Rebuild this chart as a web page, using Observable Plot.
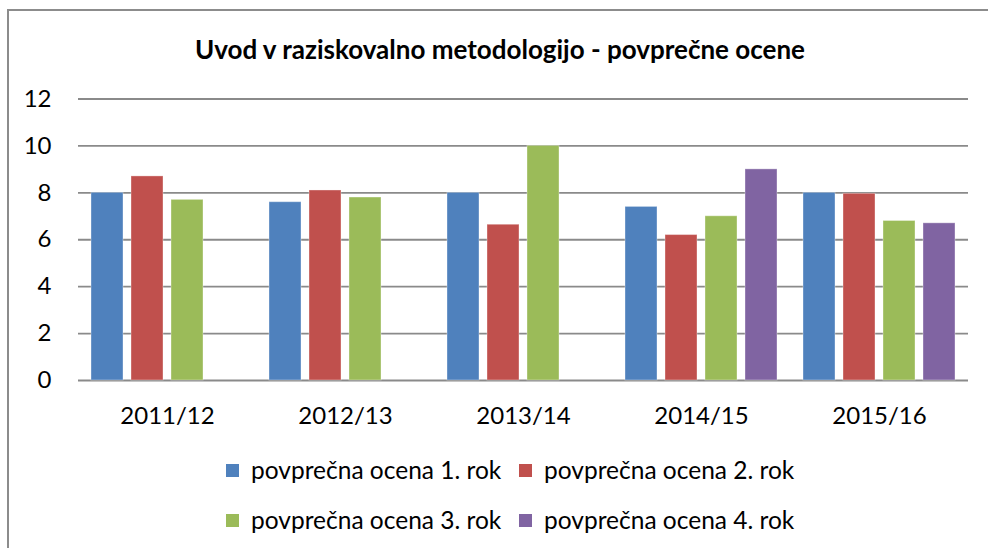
<!DOCTYPE html>
<html>
<head>
<meta charset="utf-8">
<script src="https://cdn.jsdelivr.net/npm/d3@7"></script>
<script src="https://cdn.jsdelivr.net/npm/@observablehq/plot@0.6"></script>
<style>
  html, body { margin: 0; padding: 0; background: #fff; overflow: hidden; width: 988px; height: 548px; }
  body { position: relative; font-family: Lato, "Open Sans", sans-serif; color: #000; }
  #frame { position: absolute; left: 7px; top: 9px; width: 981px; height: 539px; border-top: 2px solid #8c8c8c; border-left: 2px solid #8c8c8c; box-sizing: border-box; }
  #title { position: absolute; left: 0; width: 1000px; top: 34px; text-align: center; font-weight: bold; font-size: 26px; line-height: 30px; }
  #chart { position: absolute; left: 0; top: 70px; }
  #legend { position: absolute; left: 226px; top: 444px; display: grid; grid-template-columns: 293px 293px; row-gap: 0; }
  .item { display: flex; align-items: center; height: 50px; font-size: 24.5px; white-space: nowrap; }
  .sw { width: 13px; height: 13px; margin-right: 12px; flex: none; position: relative; top: 1px; }
</style>
</head>
<body>
<div id="frame"></div>
<div id="title">Uvod v raziskovalno metodologijo - povprečne ocene</div>
<div id="chart"></div>
<div id="legend"></div>
<script>
const years = ["2011/12", "2012/13", "2013/14", "2014/15", "2015/16"];
const seriesNames = ["povprečna ocena 1. rok", "povprečna ocena 2. rok", "povprečna ocena 3. rok", "povprečna ocena 4. rok"];
const rok1 = [8.0, 7.6, 8.0, 7.4, 8.0];
const rok2 = [8.7, 8.1, 6.64, 6.2, 7.96];
const rok3 = [7.7, 7.8, 10.0, 7.0, 6.8];
const rok4 = [null, null, null, 9.0, 6.7];
const yTicks = [0, 2, 4, 6, 8, 10, 12];
const colors = ["#4F81BD", "#C0504D", "#9BBB59", "#8064A2"];

const seriesValues = [rok1, rok2, rok3, rok4];
const data = [];
years.forEach((yr, i) => {
  seriesValues.forEach((vals, s) => {
    if (vals[i] != null) data.push({year: yr, series: seriesNames[s], value: vals[i]});
  });
});

const chart = Plot.plot({
  width: 988,
  height: 362,
  marginLeft: 77,
  marginRight: 20,
  marginTop: 28.5,
  marginBottom: 52,
  style: {fontFamily: "Lato, 'Open Sans', sans-serif", fontSize: "24px", color: "#000", background: "transparent"},
  fx: {domain: years, padding: 0, label: null},
  x: {domain: seriesNames, paddingInner: 0.2, paddingOuter: 0.29, axis: null},
  y: {domain: [0, 12], label: null},
  color: {domain: seriesNames, range: colors},
  marks: [
    Plot.gridY(yTicks, {stroke: "#8a8a8a", strokeOpacity: 1, strokeWidth: 1.8}),
    Plot.barY(data, {fx: "year", x: "series", y: "value", fill: "series", stroke: "#ffffff", strokeOpacity: 0.35, strokeWidth: 1}),
    Plot.axisY(yTicks, {tickSize: 0, tickPadding: 27, fontSize: 24, label: null}),
    Plot.axisFx({anchor: "bottom", tickSize: 0, tickPadding: 26, fontSize: 24, label: null})
  ]
});
document.getElementById("chart").appendChild(chart);

const legend = document.getElementById("legend");
seriesNames.forEach((name, i) => {
  const item = document.createElement("div");
  item.className = "item";
  const sw = document.createElement("span");
  sw.className = "sw";
  sw.style.background = colors[i];
  const t = document.createElement("span");
  t.textContent = name;
  item.appendChild(sw);
  item.appendChild(t);
  legend.appendChild(item);
});
</script>
</body>
</html>
